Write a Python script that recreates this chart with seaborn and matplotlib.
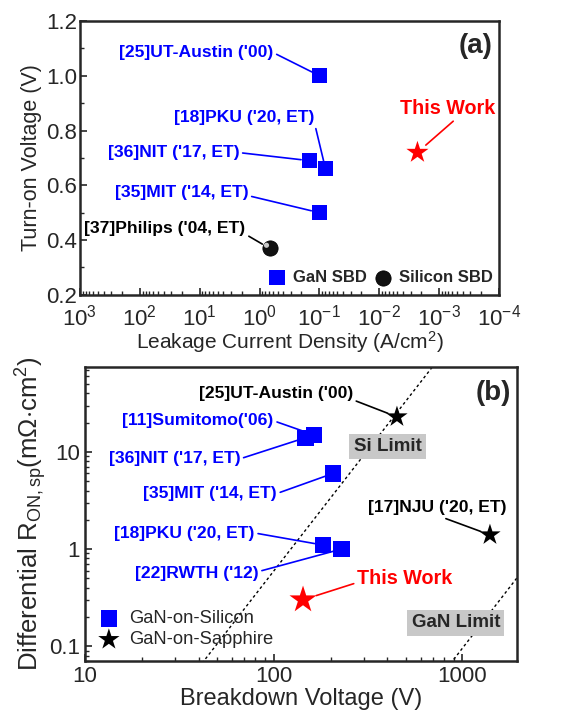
import matplotlib
matplotlib.use('Agg')
import matplotlib.pyplot as plt
import matplotlib.transforms as mtransforms
import pandas as pd
import seaborn as sns
from matplotlib.ticker import LogLocator, MultipleLocator, FixedLocator, NullFormatter, FuncFormatter

# ---- panel (a): turn-on voltage vs leakage current density ----
a_gan_labels = ["[25]UT-Austin ('00)", "[18]PKU ('20, ET)", "[36]NIT ('17, ET)", "[35]MIT ('14, ET)"]
a_gan_leak = [0.1, 0.079, 0.147, 0.1]
a_gan_von = [1.0, 0.66, 0.69, 0.5]
a_si_labels = ["[37]Philips ('04, ET)"]
a_si_leak = [0.68]
a_si_von = [0.37]
a_tw_leak = [0.0023]
a_tw_von = [0.72]
a_xticks = [1e3, 1e2, 1e1, 1e0, 1e-1, 1e-2, 1e-3, 1e-4]

# ---- panel (b): differential Ron,sp vs breakdown voltage ----
b_si_labels = ["[11]Sumitomo('06)", "[36]NIT ('17, ET)", "[35]MIT ('14, ET)", "[18]PKU ('20, ET)", "[22]RWTH ('12)"]
b_si_bv = [163, 147, 206, 182, 229]
b_si_ron = [15, 14, 6.0, 1.1, 1.0]
b_sa_labels = ["[25]UT-Austin ('00)", "[17]NJU ('20, ET)"]
b_sa_bv = [450, 1400]
b_sa_ron = [23, 1.4]
b_tw_bv = [143]
b_tw_ron = [0.3]
si_limit_bv = [40, 700]
si_limit_ron = [0.06, 76.9]
gan_limit_bv = [900, 2000]
gan_limit_ron = [0.073, 0.54]

sns.set_style('ticks')
plt.rcParams['font.family'] = ['Liberation Sans', 'DejaVu Sans']
plt.rcParams['mathtext.fontset'] = 'custom'
plt.rcParams['mathtext.rm'] = 'Liberation Sans'
plt.rcParams['mathtext.it'] = 'Liberation Sans:italic'
plt.rcParams['axes.unicode_minus'] = False
plt.rcParams['axes.linewidth'] = 1.8
plt.rcParams['xtick.direction'] = 'in'
plt.rcParams['ytick.direction'] = 'in'

BLUE = '#0000ff'
RED = '#ff0000'
FS = 12.6
FS_TW = 14.2


def note(ax, x, y, text, dx, dy, color, ha='right', rel=(1, 0.5), shrink=6, size=FS):
    ax.annotate(text, xy=(x, y), xytext=(dx, dy), textcoords='offset pixels',
                ha=ha, va='center', color=color, fontsize=size, fontweight='bold',
                arrowprops=dict(arrowstyle='-', color=color, lw=1.2, relpos=rel,
                                shrinkA=0, shrinkB=shrink))


fig = plt.figure(figsize=(5.67, 7.21), dpi=100)
ax1 = fig.add_axes([0.141, 0.591, 0.739, 0.38])
ax2 = fig.add_axes([0.150, 0.083, 0.762, 0.408])

# ---------------- (a) ----------------
df_gan = pd.DataFrame({'leak': a_gan_leak, 'von': a_gan_von})
df_si = pd.DataFrame({'leak': a_si_leak, 'von': a_si_von})
df_tw = pd.DataFrame({'leak': a_tw_leak, 'von': a_tw_von})
sns.scatterplot(data=df_gan, x='leak', y='von', marker='s', color=BLUE, s=120,
                edgecolor='none', label='GaN SBD', ax=ax1, zorder=3)
sns.scatterplot(data=df_si, x='leak', y='von', marker='o', color='#111111', s=120,
                edgecolor='black', linewidth=0.6, label='Silicon SBD', ax=ax1, zorder=3)
# glossy highlight on the sphere
shine = mtransforms.offset_copy(ax1.transData, fig=fig, x=-2.2, y=2.2, units='points')
ax1.scatter(a_si_leak, a_si_von, marker='o', s=14, color='#c8c8c8', zorder=4,
            edgecolor='none', transform=shine)
sns.scatterplot(data=df_tw, x='leak', y='von', marker='*', color=RED, s=280,
                edgecolor='none', ax=ax1, zorder=3, legend=False)

ax1.set_xscale('log')
ax1.set_xlim(1e3, 1e-4)
ax1.set_ylim(0.2, 1.2)
ax1.xaxis.set_major_locator(FixedLocator(a_xticks))
ax1.xaxis.set_minor_locator(LogLocator(base=10, subs=range(2, 10), numticks=12))
ax1.xaxis.set_minor_formatter(NullFormatter())
ax1.yaxis.set_major_locator(MultipleLocator(0.2))
ax1.yaxis.set_minor_locator(MultipleLocator(0.1))
ax1.yaxis.set_major_formatter(FuncFormatter(lambda v, p: f'{v:.1f}'))
ax1.tick_params(which='major', length=5, width=1.2, labelsize=16)
ax1.tick_params(which='minor', length=3, width=1.0)
ax1.tick_params(axis='x', pad=7)
ax1.tick_params(axis='y', pad=2)
ax1.set_xlabel('Leakage Current Density (A/cm$^2$)', fontsize=15, labelpad=-1)
ax1.set_ylabel('Turn-on Voltage (V)', fontsize=15.5, labelpad=3)

a_offsets = [(-46, 23, (1, 0.5)), (-11, 51, (1, 0.15)), (-70, 8, (1, 0.5)), (-71, 20, (1, 0.3))]
for lab, x, y, (dx, dy, rel) in zip(a_gan_labels, a_gan_leak, a_gan_von, a_offsets):
    note(ax1, x, y, lab, dx, dy, BLUE, rel=rel)
for lab, x, y in zip(a_si_labels, a_si_leak, a_si_von):
    note(ax1, x, y, lab, -24, 20, 'black', rel=(1, 0.1))
note(ax1, a_tw_leak[0], a_tw_von[0], 'This Work', 30, 44, RED, ha='center',
     rel=(0.6, 0.0), shrink=8, size=FS_TW)
ax1.text(0.985, 0.91, '(a)', transform=ax1.transAxes, ha='right', va='center',
         fontsize=20, fontweight='bold')
ax1.legend(loc='lower right', bbox_to_anchor=(1.01, 0.0), ncol=2, frameon=False,
           handletextpad=0.45, columnspacing=0.5, borderaxespad=0.2,
           handlelength=1.0, prop={'weight': 'bold', 'size': 12})

# ---------------- (b) ----------------
ax2.plot(si_limit_bv, si_limit_ron, ls=(0, (2, 2)), color='black', lw=1.0, zorder=1)
ax2.plot(gan_limit_bv, gan_limit_ron, ls=(0, (2, 2)), color='black', lw=1.0, zorder=1)
df_bsi = pd.DataFrame({'bv': b_si_bv, 'ron': b_si_ron})
df_bsa = pd.DataFrame({'bv': b_sa_bv, 'ron': b_sa_ron})
df_btw = pd.DataFrame({'bv': b_tw_bv, 'ron': b_tw_ron})
sns.scatterplot(data=df_bsi, x='bv', y='ron', marker='s', color=BLUE, s=140,
                edgecolor='none', label='GaN-on-Silicon', ax=ax2, zorder=3)
sns.scatterplot(data=df_bsa, x='bv', y='ron', marker='*', color='black', s=260,
                edgecolor='none', label='GaN-on-Sapphire', ax=ax2, zorder=3)
sns.scatterplot(data=df_btw, x='bv', y='ron', marker='*', color=RED, s=420,
                edgecolor='none', ax=ax2, zorder=3, legend=False)

ax2.set_xscale('log')
ax2.set_yscale('log')
ax2.set_xlim(10, 1950)
ax2.set_ylim(0.07, 75)
ax2.xaxis.set_major_locator(FixedLocator([10, 100, 1000]))
ax2.xaxis.set_minor_locator(LogLocator(base=10, subs=range(2, 10), numticks=12))
ax2.xaxis.set_major_formatter(FuncFormatter(lambda v, p: f'{v:g}'))
ax2.xaxis.set_minor_formatter(NullFormatter())
ax2.yaxis.set_major_locator(FixedLocator([0.1, 1, 10]))
ax2.yaxis.set_minor_locator(LogLocator(base=10, subs=range(2, 10), numticks=12))
ax2.yaxis.set_major_formatter(FuncFormatter(lambda v, p: f'{v:g}'))
ax2.yaxis.set_minor_formatter(NullFormatter())
ax2.tick_params(which='major', length=5, width=1.2, labelsize=16)
ax2.tick_params(which='minor', length=3, width=1.0)
ax2.set_xlabel('Breakdown Voltage (V)', fontsize=17, labelpad=1)
ax2.set_ylabel(r'Differential R$_{\mathrm{ON,sp}}$(m$\Omega$$\cdot$cm$^2$)', fontsize=18.5, labelpad=0)

b_si_offsets = [(-40, 14, (1, 0.5)), (-65, -21, (1, 0.5)), (-56, -20, (1, 0.5)),
                (-68, 12, (1, 0.5)), (-83, -24, (1, 0.6))]
for lab, x, y, (dx, dy, rel) in zip(b_si_labels, b_si_bv, b_si_ron, b_si_offsets):
    note(ax2, x, y, lab, dx, dy, BLUE, rel=rel)
b_sa_offsets = [(-44, 23, 'right', (1, 0.1)), (-53, 27, 'center', (0.5, 0.0))]
for lab, x, y, (dx, dy, ha, rel) in zip(b_sa_labels, b_sa_bv, b_sa_ron, b_sa_offsets):
    note(ax2, x, y, lab, dx, dy, 'black', ha=ha, rel=rel, shrink=7)
note(ax2, b_tw_bv[0], b_tw_ron[0], 'This Work', 54, 21, RED, ha='left',
     rel=(0, 0.3), shrink=10, size=FS_TW)

box = dict(facecolor='#c8c8c8', edgecolor='none', pad=3)
ax2.text(0.70, 0.73, 'Si Limit', transform=ax2.transAxes, ha='center', va='center',
         fontsize=13.5, fontweight='bold', bbox=box)
ax2.text(0.858, 0.13, 'GaN Limit', transform=ax2.transAxes, ha='center', va='center',
         fontsize=13.5, fontweight='bold', bbox=box)
ax2.text(0.985, 0.91, '(b)', transform=ax2.transAxes, ha='right', va='center',
         fontsize=20, fontweight='bold')
ax2.legend(loc='lower left', frameon=False, fontsize=13.2, handletextpad=0.5,
           borderaxespad=0.3, labelspacing=0.22, handlelength=1.2)

fig.savefig('out.png', dpi=100)
